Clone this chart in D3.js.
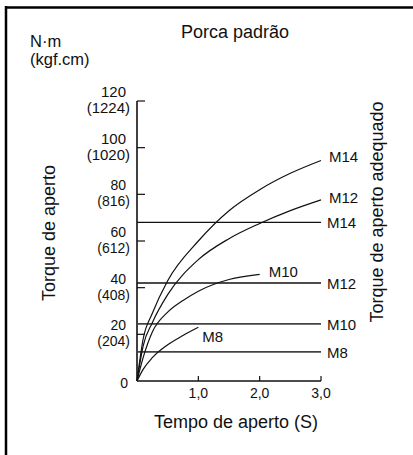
<!DOCTYPE html>
<html>
<head>
<meta charset="utf-8">
<script src="https://cdn.jsdelivr.net/npm/d3@7"></script>
<style>
  body { margin: 0; background: #fff; }
  svg { display: block; font-family: "Liberation Sans", Arial, sans-serif; }
</style>
</head>
<body>
<div id="chart"></div>
<script>
// 曲线数据：拧紧时间 (s) 与扭矩 (N·m)
const timeLong = [0, 0.1, 0.25, 0.5, 1.0, 1.5, 2.0, 2.5, 3.0];
const torqueM14 = [0, 18, 29, 43, 60, 73, 82, 89, 94.5];
const torqueM12 = [0, 15, 25, 37, 52, 61, 67.5, 73, 77.6];
const timeM10 = [0, 0.1, 0.25, 0.5, 0.75, 1.0, 1.5, 2.0];
const torqueM10 = [0, 10, 21, 29.5, 34.5, 38.5, 43.5, 45.7];
const timeM8 = [0, 0.1, 0.25, 0.5, 0.75, 1.0];
const torqueM8 = [0, 5, 10, 15.5, 19.5, 23];

// 合适扭矩水平线
const adequateNames = ['M14', 'M12', 'M10', 'M8'];
const adequateTorque = [68, 42, 24.5, 12.5];

// 刻度
const yTicks = [20, 40, 60, 80, 100, 120];
const yTicksKgf = ['(204)', '(408)', '(612)', '(816)', '(1020)', '(1224)'];
const xTicks = [1, 2, 3];
const xTickLabels = ['1,0', '2,0', '3,0'];

const curves = [
    { name: 'M14', t: timeLong, v: torqueM14, dx: 8, dy: 1 },
    { name: 'M12', t: timeLong, v: torqueM12, dx: 8, dy: 3 },
    { name: 'M10', t: timeM10, v: torqueM10, dx: 9, dy: 3 },
    { name: 'M8',  t: timeM8,  v: torqueM8,  dx: 4, dy: 15 }
];

const W = 413, H = 455;
const svg = d3.select('#chart').append('svg').attr('width', W).attr('height', H);

// 外框（仅上、左）
svg.append('line').attr('x1', 5).attr('x2', W).attr('y1', 7.5).attr('y2', 7.5)
    .attr('stroke', '#000').attr('stroke-width', 2.5);
svg.append('line').attr('x1', 6).attr('x2', 6).attr('y1', 6).attr('y2', H)
    .attr('stroke', '#000').attr('stroke-width', 2.5);

const x = d3.scaleLinear().domain([0, 3]).range([137, 321]);
const y = d3.scaleLinear().domain([0, 120]).range([381, 101]);

const ink = '#111';

// 坐标轴
svg.append('line').attr('x1', x(0)).attr('x2', x(0)).attr('y1', y(0)).attr('y2', y(120))
    .attr('stroke', ink).attr('stroke-width', 1.6);
svg.append('line').attr('x1', x(0)).attr('x2', x(3)).attr('y1', y(0)).attr('y2', y(0))
    .attr('stroke', ink).attr('stroke-width', 1.6);

// y 刻度（向内）
svg.selectAll('.ytick').data(yTicks).join('line')
    .attr('x1', x(0)).attr('x2', x(0) + 8)
    .attr('y1', d => y(d)).attr('y2', d => y(d))
    .attr('stroke', ink).attr('stroke-width', 1.2);

const yLab = svg.append('g').attr('fill', ink).attr('text-anchor', 'end');
yTicks.forEach((d, i) => {
    const fs = d >= 100 ? 15 : 14;
    yLab.append('text').attr('x', 126).attr('y', y(d) - 4).attr('font-size', fs).text(d);
    yLab.append('text').attr('x', 130).attr('y', y(d) + 12).attr('font-size', fs).text(yTicksKgf[i]);
});
yLab.append('text').attr('x', 128).attr('y', y(0) + 7).attr('font-size', 14).text('0');

// x 刻度（向上）
svg.selectAll('.xtick').data(xTicks).join('line')
    .attr('x1', d => x(d)).attr('x2', d => x(d))
    .attr('y1', y(0)).attr('y2', y(0) - 5)
    .attr('stroke', ink).attr('stroke-width', 1.2);
svg.append('g').attr('font-size', 14).attr('fill', ink).attr('text-anchor', 'middle')
    .selectAll('text').data(xTicks).join('text')
    .attr('x', d => x(d)).attr('y', 398)
    .text((d, i) => xTickLabels[i]);

// 合适扭矩水平线
adequateNames.forEach((name, i) => {
    const yy = y(adequateTorque[i]);
    svg.append('line').attr('x1', x(0)).attr('x2', x(3)).attr('y1', yy).attr('y2', yy)
        .attr('stroke', i >= 2 ? '#444' : ink).attr('stroke-width', i >= 2 ? 1.6 : 1.3);
    svg.append('text').attr('x', x(3) + 6).attr('y', yy + 6)
        .attr('font-size', 15).attr('fill', ink).text(name);
});

// 扭矩曲线
const line = d3.line().x(d => x(d[0])).y(d => y(d[1])).curve(d3.curveMonotoneX);
curves.forEach(c => {
    const pts = c.t.map((t, i) => [t, c.v[i]]);
    svg.append('path').attr('d', line(pts))
        .attr('fill', 'none').attr('stroke', ink).attr('stroke-width', 1.2);
    const last = pts[pts.length - 1];
    svg.append('text').attr('x', x(last[0]) + c.dx).attr('y', y(last[1]) + c.dy)
        .attr('font-size', 15).attr('fill', ink).text(c.name);
});

// 标题与单位
svg.append('text').attr('x', 235).attr('y', 38).attr('text-anchor', 'middle')
    .attr('font-size', 18).attr('fill', ink).text('Porca padrão');
svg.append('text').attr('x', 30).attr('y', 47).attr('font-size', 16.5).attr('fill', ink).text('N·m');
svg.append('text').attr('x', 30).attr('y', 65).attr('font-size', 16.5).attr('fill', ink).text('(kgf.cm)');

svg.append('text').attr('transform', 'translate(55,233) rotate(-90)')
    .attr('text-anchor', 'middle').attr('font-size', 18).attr('fill', ink).text('Torque de aperto');
svg.append('text').attr('transform', 'translate(383,212) rotate(-90)')
    .attr('text-anchor', 'middle').attr('font-size', 18).attr('fill', ink).text('Torque de aperto adequado');
svg.append('text').attr('x', 236).attr('y', 428).attr('text-anchor', 'middle')
    .attr('font-size', 18).attr('fill', ink).text('Tempo de aperto (S)');
</script>
</body>
</html>
